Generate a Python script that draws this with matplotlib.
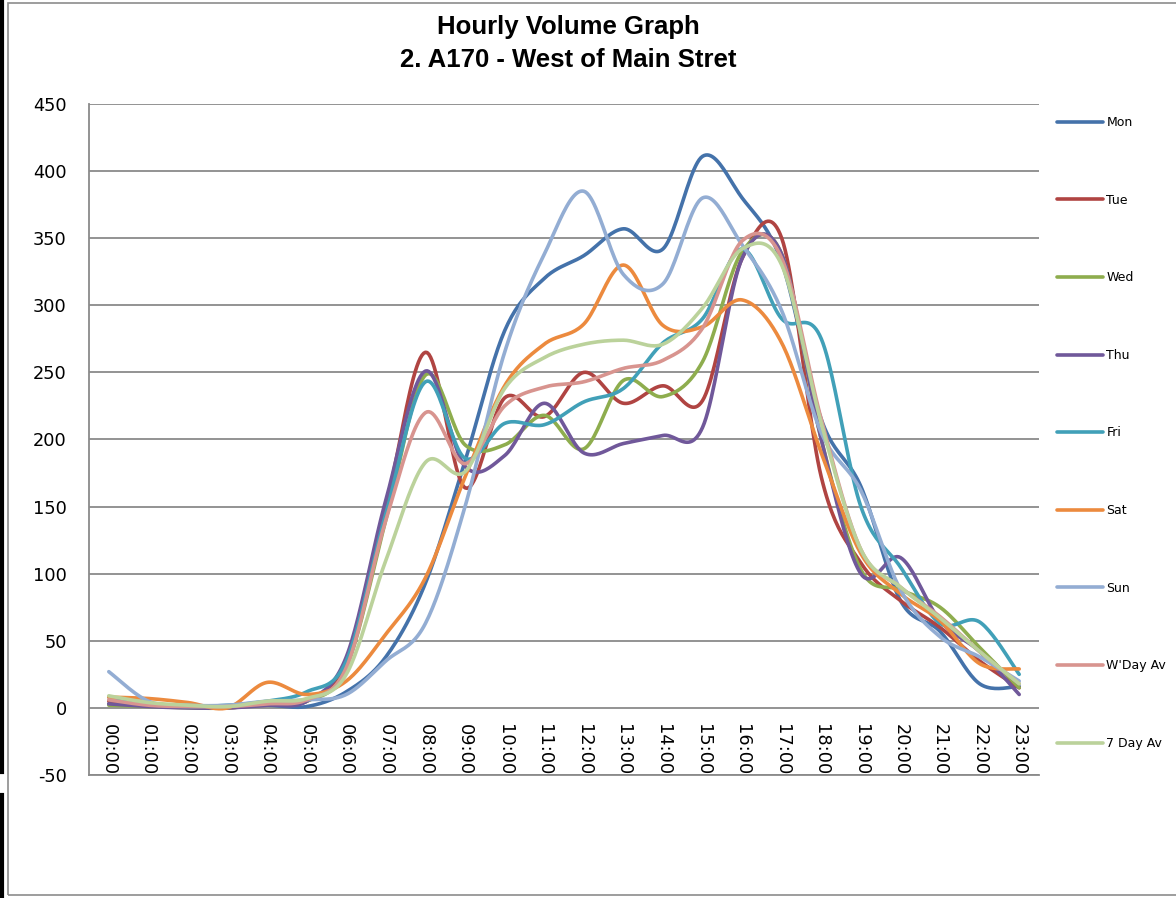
import matplotlib
matplotlib.use("Agg")
import matplotlib.pyplot as plt
import numpy as np
from matplotlib.lines import Line2D
from matplotlib.patches import Rectangle

plt.rcParams["axes.unicode_minus"] = False

hours = ["00:00", "01:00", "02:00", "03:00", "04:00", "05:00", "06:00", "07:00",
         "08:00", "09:00", "10:00", "11:00", "12:00", "13:00", "14:00", "15:00",
         "16:00", "17:00", "18:00", "19:00", "20:00", "21:00", "22:00", "23:00"]

mon = [3, 2, 1, 1, 2, 1, 12, 38, 93, 184, 281, 320, 337, 357, 342, 411, 380, 332, 215, 165, 80, 57, 18, 16]
tue = [5, 2, 1, 0, 3, 5, 35, 150, 265, 164, 231, 217, 250, 227, 240, 229, 335, 350, 172, 108, 80, 60, 35, 15]
wed = [2, 1, 0, 0, 3, 5, 30, 140, 248, 196, 196, 218, 193, 244, 232, 258, 340, 338, 200, 103, 88, 75, 45, 15]
thu = [3, 1, 0, 0, 2, 5, 38, 155, 251, 180, 188, 227, 190, 197, 203, 209, 335, 338, 200, 100, 112, 65, 42, 10]
fri = [8, 3, 1, 2, 5, 12, 35, 145, 243, 186, 212, 211, 228, 238, 272, 290, 342, 290, 275, 150, 105, 63, 64, 25]
sat = [8, 7, 4, 0, 19, 10, 20, 55, 97, 172, 240, 271, 286, 330, 285, 284, 304, 272, 190, 115, 85, 65, 33, 29]
sun = [27, 5, 2, 2, 5, 6, 10, 35, 63, 150, 265, 338, 385, 323, 316, 380, 345, 296, 205, 162, 88, 53, 38, 20]
wday_av = [6, 2, 1, 1, 3, 6, 30, 140, 220, 182, 225, 239, 243, 253, 259, 283, 348, 335, 215, 118, 90, 68, 42, 18]
day7_av = [9, 4, 2, 1, 5, 7, 25, 110, 183, 176, 238, 261, 271, 274, 271, 298, 342, 330, 212, 118, 90, 67, 42, 18]

series_names = ["Mon", "Tue", "Wed", "Thu", "Fri", "Sat", "Sun", "W'Day Av", "7 Day Av"]
series_values = [mon, tue, wed, thu, fri, sat, sun, wday_av, day7_av]
colors = ["#4472AA", "#B04442", "#8EAD4E", "#70589A", "#41A0B8",
          "#EC8A3E", "#93ADD3", "#D8948F", "#BBD29B"]


def smooth(values, n=24):
    # Excel-like smoothed line (bezier through each point)
    pts = np.column_stack([np.arange(len(values)), np.asarray(values, float)])
    last = len(pts) - 1
    t = np.linspace(0, 1, n)[:, None]
    out = []
    for i in range(last):
        p0 = pts[max(i - 1, 0)]
        p1 = pts[i]
        p2 = pts[i + 1]
        p3 = pts[min(i + 2, last)]
        c1 = p1 + (p2 - p0) / 6
        c2 = p2 - (p3 - p1) / 6
        seg = (1 - t) ** 3 * p1 + 3 * (1 - t) ** 2 * t * c1 + 3 * (1 - t) * t ** 2 * c2 + t ** 3 * p2
        out.append(seg if i == 0 else seg[1:])
    out = np.vstack(out)
    return out[:, 0], out[:, 1]


fig = plt.figure(figsize=(11.76, 8.98), dpi=100)
ax = fig.add_axes([89 / 1176, 1 - 775 / 898, 950 / 1176, 671 / 898])

grid_color = "#8A8A8A"
for name, vals, col in zip(series_names, series_values, colors):
    xs, ys = smooth(vals)
    ax.plot(xs, ys, color=col, linewidth=2.6, label=name, solid_capstyle="round", zorder=3)

ax.set_xlim(-0.5, 23.5)
ax.set_ylim(-50, 450)
ax.set_yticks(range(-50, 451, 50))
ax.set_xticks([])
ax.tick_params(axis="y", length=0, pad=16, labelsize=12.8)
ax.grid(axis="y", color=grid_color, linewidth=1.3, zorder=1)
ax.set_axisbelow(True)
for side in ["top", "right"]:
    ax.spines[side].set_visible(False)
for side in ["left", "bottom"]:
    ax.spines[side].set_color(grid_color)
    ax.spines[side].set_linewidth(1.3)

for i, lab in enumerate(hours):
    ax.text(i, -50, lab, rotation=270, ha="center", va="bottom", fontsize=12.8)

# titles
fig.text(568 / 1176, 1 - 27 / 898, "Hourly Volume Graph", ha="center", va="center",
         fontsize=18.5, fontweight="bold", family="Liberation Sans")
fig.text(568 / 1176, 1 - 60 / 898, "2. A170 - West of Main Stret", ha="center", va="center",
         fontsize=18.5, fontweight="bold", family="Liberation Sans")

# legend
handles = [Line2D([0], [0], color=c, linewidth=2.6, solid_capstyle="round") for c in colors]
fig.legend(handles, series_names, loc="center left", bbox_to_anchor=(1057 / 1176, 1 - 433 / 898),
           frameon=False, fontsize=9, handlelength=3.7, handletextpad=0.25,
           labelspacing=5.17, borderpad=0, borderaxespad=0)

# chart border and page edge
fig.patches.append(Rectangle((8 / 1176, 3 / 898), 1.2, 892 / 898, transform=fig.transFigure,
                             fill=False, edgecolor="#8C8C8C", linewidth=1.2))
fig.lines.append(Line2D([2 / 1176, 2 / 1176], [1, 1 - 772 / 898], transform=fig.transFigure,
                        color="black", linewidth=3))
fig.lines.append(Line2D([2 / 1176, 2 / 1176], [1 - 795 / 898, 0], transform=fig.transFigure,
                        color="black", linewidth=3))

fig.savefig("out.png", dpi=100)
plt.close(fig)
